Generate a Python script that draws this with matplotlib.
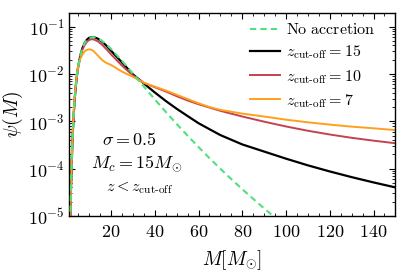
import matplotlib
matplotlib.use("Agg")
import matplotlib.pyplot as plt
from matplotlib.ticker import MultipleLocator, LogLocator, NullFormatter

plt.rcParams['mathtext.fontset'] = 'cm'
plt.rcParams['font.family'] = 'serif'
plt.rcParams['font.serif'] = ['cmr10', 'DejaVu Serif']
plt.rcParams['axes.unicode_minus'] = False
plt.rcParams['axes.formatter.use_mathtext'] = True

# ---- data ----
m_noacc = [1.4, 1.5, 1.75, 2, 2.5, 3, 3.5, 4, 4.5, 5, 6, 7, 8, 9, 10, 12, 14, 16, 18, 20,
           25, 30, 35, 40, 45, 50, 55, 60, 65, 70, 75, 80, 85, 90, 95]
psi_noacc = [7.4e-6, 1.32e-5, 4.47e-5, 1.19e-4, 5.19e-4, 1.50e-3, 3.30e-3, 6.06e-3, 9.77e-3,
             1.427e-2, 2.48e-2, 3.568e-2, 4.525e-2, 5.26e-2, 5.743e-2, 6.019e-2, 5.645e-2,
             4.945e-2, 4.148e-2, 3.381e-2, 1.894e-2, 1.017e-2, 5.42e-3, 2.91e-3, 1.585e-3,
             8.79e-4, 4.96e-4, 2.85e-4, 1.666e-4, 9.9e-5, 5.99e-5, 3.67e-5, 2.29e-5,
             1.44e-5, 9.2e-6]

m_z15 = [1.4, 1.5, 1.75, 2, 2.5, 3, 3.5, 4, 4.5, 5, 6, 7, 8, 9, 10, 12, 14, 16, 18, 20,
         25, 30, 35, 40, 45, 50, 55, 60, 65, 70, 80, 90, 100, 110, 120, 130, 140, 150]
psi_z15 = [7.4e-6, 1.32e-5, 4.47e-5, 1.19e-4, 5.19e-4, 1.50e-3, 3.30e-3, 6.06e-3, 9.77e-3,
           1.427e-2, 2.48e-2, 3.57e-2, 4.53e-2, 5.3e-2, 5.8e-2, 6.05e-2, 5.55e-2, 4.8e-2,
           3.9e-2, 3.1e-2, 1.75e-2, 9.8e-3, 6.3e-3, 4.07e-3, 2.69e-3, 1.84e-3, 1.29e-3,
           9.1e-4, 6.8e-4, 5.1e-4, 3.24e-4, 2.29e-4, 1.62e-4, 1.17e-4, 8.7e-5, 6.6e-5,
           5.1e-5, 4.0e-5]

m_z10 = [1.4, 1.5, 1.75, 2, 2.5, 3, 3.5, 4, 4.5, 5, 6, 7, 8, 9, 10, 11, 12, 14, 16, 18, 20,
         25, 30, 35, 40, 45, 50, 55, 60, 65, 70, 80, 90, 100, 110, 120, 130, 140, 150]
psi_z10 = [7.4e-6, 1.32e-5, 4.5e-5, 1.2e-4, 5.2e-4, 1.5e-3, 3.3e-3, 6.0e-3, 9.6e-3, 1.39e-2,
           2.36e-2, 3.30e-2, 4.10e-2, 4.78e-2, 5.22e-2, 5.40e-2, 5.38e-2, 4.90e-2, 4.10e-2,
           3.30e-2, 2.60e-2, 1.50e-2, 9.3e-3, 6.5e-3, 5.25e-3, 4.27e-3, 3.39e-3, 2.75e-3,
           2.29e-3, 1.95e-3, 1.66e-3, 1.26e-3, 9.8e-4, 7.76e-4, 6.3e-4, 5.25e-4, 4.47e-4,
           3.89e-4, 3.43e-4]

m_z7 = [1.4, 1.5, 1.75, 2, 2.5, 3, 3.5, 4, 4.5, 5, 6, 7, 8, 9, 10, 11, 12, 14, 16, 18, 20,
        25, 30, 35, 40, 45, 50, 55, 60, 65, 70, 80, 90, 100, 110, 120, 130, 140, 150]
psi_z7 = [8.0e-6, 1.45e-5, 5.0e-5, 1.4e-4, 6.0e-4, 1.8e-3, 3.8e-3, 6.5e-3, 1.0e-2, 1.45e-2,
          2.10e-2, 2.60e-2, 3.00e-2, 3.23e-2, 3.30e-2, 3.25e-2, 3.05e-2, 2.45e-2, 1.95e-2,
          1.70e-2, 1.55e-2, 1.12e-2, 8.7e-3, 6.5e-3, 5.4e-3, 4.47e-3, 3.63e-3, 2.95e-3,
          2.4e-3, 2.0e-3, 1.74e-3, 1.45e-3, 1.26e-3, 1.08e-3, 9.5e-4, 8.5e-4, 7.7e-4,
          7.1e-4, 6.5e-4]

labels = [r'$\mathrm{No\ accretion}$',
          r'$z_{\mathrm{cut\text{-}off}}=15$',
          r'$z_{\mathrm{cut\text{-}off}}=10$',
          r'$z_{\mathrm{cut\text{-}off}}=7$']

fig = plt.figure(figsize=(3.99, 2.74), dpi=100)
ax = fig.add_axes([0.174, 0.212, 0.817, 0.741])

ax.plot(m_noacc, psi_noacc, color='#50e07c', ls=(0, (3, 2)), lw=1.5, label=labels[0], zorder=3)
ax.plot(m_z15, psi_z15, color='black', lw=1.6, label=labels[1], zorder=2)
ax.plot(m_z10, psi_z10, color='#c4424f', lw=1.4, label=labels[2], zorder=2.1)
ax.plot(m_z7, psi_z7, color='#ffa01c', lw=1.4, label=labels[3], zorder=2.2)

ax.set_yscale('log')
ax.set_xlim(1, 150)
ax.set_ylim(1e-5, 0.195)
ax.xaxis.set_major_locator(MultipleLocator(20))
ax.xaxis.set_minor_locator(MultipleLocator(5))
ax.yaxis.set_major_locator(LogLocator(base=10, numticks=10))
ax.yaxis.set_minor_locator(LogLocator(base=10, subs=range(2, 10), numticks=20))
ax.yaxis.set_minor_formatter(NullFormatter())
ax.tick_params(which='both', direction='in', top=True, right=True, labelsize=13)
ax.tick_params(axis='x', which='major', pad=6)
ax.tick_params(which='major', length=4, width=0.8)
ax.tick_params(which='minor', length=2, width=0.6)
for s in ax.spines.values():
    s.set_linewidth(1.0)

ax.set_xlabel(r'$M[M_{\odot}]$', fontsize=14, labelpad=6)
ax.set_ylabel(r'$\psi(M)$', fontsize=14, labelpad=2)

ax.text(0.185, 0.375, r'$\sigma=0.5$', transform=ax.transAxes, fontsize=13, ha='center', va='center')
ax.text(0.205, 0.257, r'$M_c=15M_{\odot}$', transform=ax.transAxes, fontsize=13, ha='center', va='center')
ax.text(0.216, 0.14, r'$z<z_{\mathrm{cut\text{-}off}}$', transform=ax.transAxes, fontsize=11.5, ha='center', va='center')

leg = ax.legend(loc='upper right', bbox_to_anchor=(0.957, 0.985), frameon=False,
                fontsize=11.5, handlelength=1.9, handletextpad=0.35, labelspacing=0.4,
                borderaxespad=0.0)

fig.savefig('out.png', dpi=100)
